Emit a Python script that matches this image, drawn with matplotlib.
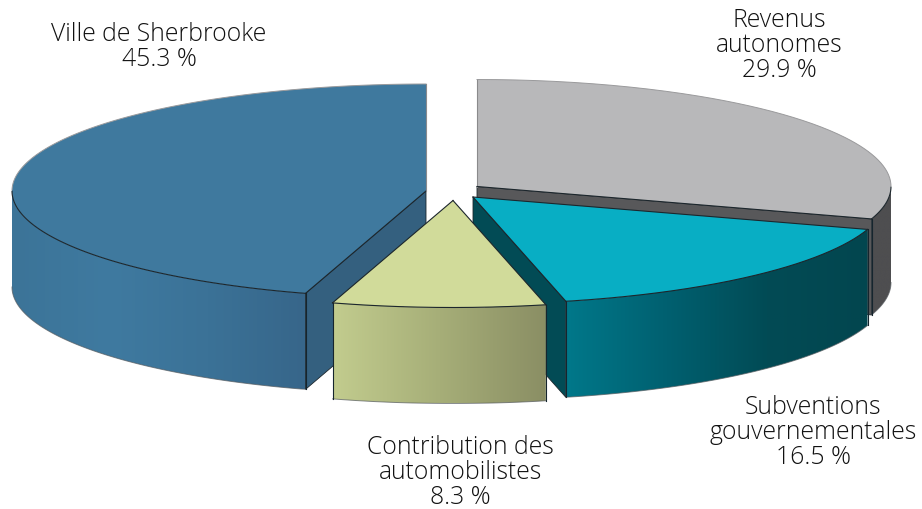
import numpy as np
import matplotlib
matplotlib.use('Agg')
import matplotlib.pyplot as plt
from matplotlib.colors import LinearSegmentedColormap
from matplotlib.patches import Polygon

# order is clockwise from 12 o'clock
labels = ['Revenus\nautonomes', 'Subventions\ngouvernementales',
          'Contribution des\nautomobilistes', 'Ville de Sherbrooke']
shares = [29.9, 16.5, 8.3, 45.3]

centers = [(477, 187.5), (473, 198), (453, 201.5), (426, 192)]
label_pos = [(779, 45.5), (813, 433), (460, 473), (159, 47)]
top_colors = ['#B8B8BA', '#08AEC4', '#D1DB9A', '#3F799E']
cut_colors = ['#58585A', '#024B55', '#8C9066', '#34607F']
wall_colors = [['#4E4E50', '#4E4E50'],
               ['#00788A', '#006070', '#024B55', '#02464F'],
               ['#C2CC8E', '#A6AE78', '#8A8E64'],
               ['#3C7498', '#3F7AA0', '#3B7297', '#37668A']]

RX = 414
RY = 107
DEPTH = 96


def rim(center, t):
    return center[0] + RX * np.sin(t), center[1] - RY * np.cos(t)


def gradient_fill(ax, verts, colors, zorder):
    poly = Polygon(verts, closed=True, fc='none', ec='none', zorder=zorder)
    ax.add_patch(poly)
    cmap = LinearSegmentedColormap.from_list('wall', colors)
    x0, x1 = verts[:, 0].min(), verts[:, 0].max()
    y0, y1 = verts[:, 1].min(), verts[:, 1].max()
    im = ax.imshow(np.linspace(0, 1, 256).reshape(1, -1), cmap=cmap, aspect='auto',
                   extent=(x0, x1, y1, y0), zorder=zorder)
    im.set_clip_path(poly)


def draw_slice(ax, i, t0, t1, z):
    c = centers[i]
    # outer wall, only the part facing the viewer
    a, b = max(t0, np.pi / 2), min(t1, 3 * np.pi / 2)
    if b > a:
        t = np.linspace(a, b, 120)
        x, y = rim(c, t)
        verts = np.r_[np.c_[x, y], np.c_[x, y + DEPTH][::-1]]
        gradient_fill(ax, verts, wall_colors[i], z)
        ax.plot(x, y + DEPTH, color='#555A5E', lw=0.7, alpha=0.7, zorder=z + 1)
        # vertical edges, not on the silhouette
        if a == t0:
            ax.plot([x[0], x[0]], [y[0], y[0] + DEPTH], color='#15252E', lw=0.8, zorder=z + 1)
        if b == t1:
            ax.plot([x[-1], x[-1]], [y[-1], y[-1] + DEPTH], color='#15252E', lw=0.8, zorder=z + 1)

    # radial cut faces
    for angle, visible in ((t0, np.pi < t0 < 2 * np.pi), (t1, 0 < t1 < np.pi)):
        if visible:
            x, y = rim(c, angle)
            ax.add_patch(Polygon([c, (x, y), (x, y + DEPTH), (c[0], c[1] + DEPTH)], closed=True,
                                 fc=cut_colors[i], ec='#1C262C', lw=0.6, zorder=z))

    # top face: dark front rim, soft back rim
    t = np.linspace(t0, t1, 200)
    x, y = rim(c, t)
    ax.add_patch(Polygon(np.r_[[c], np.c_[x, y]], closed=True, fc=top_colors[i], ec='none', zorder=z + 2))
    front = (t >= np.pi / 2) & (t <= 3 * np.pi / 2)
    ax.plot(x[front], y[front], color='#1C262C', lw=0.8, zorder=z + 3)
    for mask in (t < np.pi / 2, t > 3 * np.pi / 2):
        if mask.any():
            ax.plot(x[mask], y[mask], color='#9A9A9C', lw=0.7, zorder=z + 3)
    for angle in (t0, t1):
        px, py = rim(c, angle)
        soft = abs(np.sin(angle)) < 1e-6
        ax.plot([c[0], px], [c[1], py], color='#8A8A8C' if soft else '#1C262C',
                lw=0.8, zorder=z + 3)


fig = plt.figure(figsize=(9.22, 5.10), dpi=100)
ax = fig.add_axes([0, 0, 1, 1])

edges = np.r_[0, np.cumsum(shares)] / np.sum(shares) * 2 * np.pi
for z, i in zip([1, 6, 11, 16], [0, 3, 1, 2]):
    draw_slice(ax, i, edges[i], edges[i + 1], z)

for (x, y), lab, val in zip(label_pos, labels, shares):
    ax.text(x, y, '{}\n{} %'.format(lab, val), ha='center', va='center', family='Open Sans',
            weight='light', fontsize=17.8, linespacing=1.0, color='#111111', zorder=30)

ax.set_xlim(0, 922)
ax.set_ylim(510, 0)
ax.axis('off')

plt.savefig('out.png', dpi=100)
